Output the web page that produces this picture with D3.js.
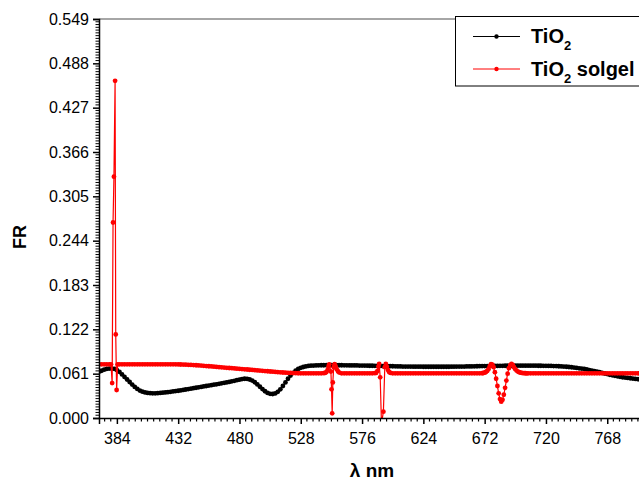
<!DOCTYPE html>
<html>
<head>
<meta charset="utf-8">
<script src="https://cdn.jsdelivr.net/npm/d3@7"></script>
<style>
  body { margin: 0; background: #fff; }
  svg { display: block; font-family: "Liberation Sans", Arial, sans-serif; }
</style>
</head>
<body>
<svg id="chart" width="639" height="482"></svg>
<script>
// Axis tick labels
const xTickLabels = ["384", "432", "480", "528", "576", "624", "672", "720", "768"];
const yTickLabels = ["0.000", "0.061", "0.122", "0.183", "0.244", "0.305", "0.366", "0.427", "0.488", "0.549"];

// Wavelength grid (nm) shared by both spectra
const wavelength = d3.range(370, 801, 2);

// TiO2 reflectance on the wavelength grid
const tio2FR = [
  0.0635, 0.065, 0.0665, 0.0675, 0.068, 0.068, 0.0675, 0.066, 0.0635, 0.060,
  0.0565, 0.053, 0.0495, 0.046, 0.0428, 0.040, 0.0378, 0.0362, 0.0352, 0.0345,
  0.0341, 0.034, 0.034, 0.0342, 0.0345, 0.0348, 0.0352, 0.0356, 0.036, 0.0365,
  0.037, 0.0375, 0.038, 0.0386, 0.0392, 0.0398, 0.0404, 0.041, 0.0416, 0.0422,
  0.0428, 0.0434, 0.044, 0.0446, 0.0452, 0.0458, 0.0464, 0.047, 0.0477, 0.0484,
  0.049, 0.0497, 0.0505, 0.0512, 0.052, 0.0528, 0.0535, 0.054, 0.0538, 0.053,
  0.0515, 0.0492, 0.0462, 0.043, 0.0398, 0.0368, 0.0345, 0.0332, 0.033, 0.0338,
  0.036, 0.0395, 0.044, 0.049, 0.054, 0.0585, 0.0622, 0.0652, 0.0675, 0.069,
  0.0702, 0.071, 0.0716, 0.072, 0.0722, 0.0724, 0.0725, 0.0726, 0.0726, 0.0727,
  0.0727, 0.0727, 0.0727, 0.0726, 0.0726, 0.0726, 0.0725, 0.0725, 0.0724, 0.0724,
  0.0723, 0.0723, 0.0722, 0.0722, 0.0721, 0.072, 0.0719, 0.0719, 0.0718, 0.0717,
  0.0716, 0.0715, 0.0714, 0.0713, 0.0713, 0.0712, 0.0711, 0.071, 0.0709, 0.0708,
  0.0708, 0.0707, 0.0707, 0.0706, 0.0706, 0.0706, 0.0706, 0.0705, 0.0705, 0.0705,
  0.0705, 0.0705, 0.0705, 0.0705, 0.0705, 0.0705, 0.0705, 0.0705, 0.0706, 0.0706,
  0.0707, 0.0707, 0.0708, 0.0708, 0.0709, 0.071, 0.071, 0.0711, 0.0712, 0.0713,
  0.0714, 0.0714, 0.0715, 0.0716, 0.0716, 0.0717, 0.0717, 0.0718, 0.0718, 0.0719,
  0.0719, 0.0719, 0.072, 0.072, 0.072, 0.072, 0.072, 0.072, 0.072, 0.072,
  0.072, 0.072, 0.0719, 0.0719, 0.0718, 0.0718, 0.0717, 0.0716, 0.0715, 0.0714,
  0.0712, 0.071, 0.0708, 0.0705, 0.0702, 0.0698, 0.0694, 0.0689, 0.0684, 0.068,
  0.0675, 0.0668, 0.066, 0.0652, 0.0645, 0.0638, 0.063, 0.0621, 0.0612, 0.0604,
  0.0595, 0.0587, 0.058, 0.0573, 0.0567, 0.0561, 0.0556, 0.0551, 0.0547, 0.0543,
  0.0538, 0.0534, 0.053, 0.0527, 0.0524, 0.052
];

// TiO2 solgel reflectance on the grid (null where the finer samples below take over)
const solgelFR = [
  0.0738, 0.0738, 0.0738, 0.0738, 0.0738, null, null, null, 0.0738, 0.0738,
  0.0738, 0.0738, 0.0738, 0.0738, 0.0738, 0.0738, 0.0738, 0.0738, 0.0738, 0.0738,
  0.0738, 0.0738, 0.0738, 0.0738, 0.0738, 0.0738, 0.0738, 0.0738, 0.0738, 0.0738,
  0.0738, 0.0737, 0.0736, 0.0735, 0.0734, 0.0732, 0.073, 0.0728, 0.0726, 0.0724,
  0.0721, 0.0718, 0.0715, 0.0712, 0.0709, 0.0706, 0.0703, 0.070, 0.0697, 0.0694,
  0.0691, 0.0688, 0.0685, 0.0682, 0.0679, 0.0676, 0.0673, 0.067, 0.0667, 0.0664,
  0.0661, 0.0658, 0.0655, 0.0652, 0.0649, 0.0646, 0.0643, 0.064, 0.0637, 0.0634,
  0.0631, 0.0628, 0.0626, 0.0624, 0.0622, 0.062, 0.0618, 0.0617, 0.0616, 0.0615,
  0.0615, 0.0615, 0.0615, 0.0615, 0.0615, 0.0615, 0.0615, 0.0615, null, null,
  null, null, null, null, null, 0.0615, 0.0615, 0.0615, 0.0615, 0.0615,
  0.0615, 0.0615, 0.0615, 0.0615, 0.0615, 0.0615, 0.0615, 0.0615, null, null,
  null, null, null, null, null, 0.0615, 0.0615, 0.0615, 0.0615, 0.0615,
  0.0615, 0.0615, 0.0615, 0.0615, 0.0615, 0.0615, 0.0615, 0.0615, 0.0615, 0.0615,
  0.0615, 0.0615, 0.0615, 0.0615, 0.0615, 0.0615, 0.0615, 0.0615, 0.0615, 0.0615,
  0.0615, 0.0615, 0.0615, 0.0615, 0.0615, 0.0615, 0.0615, 0.0615, 0.0615, 0.0615,
  null, null, null, null, null, null, null, null, null, null,
  null, null, null, null, null, null, null, null, null, 0.0615,
  0.0615, 0.0615, 0.0615, 0.0615, 0.0615, 0.0615, 0.0615, 0.0615, 0.0615, 0.0615,
  0.0615, 0.0615, 0.0615, 0.0615, 0.0615, 0.0615, 0.0615, 0.0615, 0.0615, 0.0615,
  0.0615, 0.0615, 0.0615, 0.0615, 0.0615, 0.0615, 0.0615, 0.0615, 0.0615, 0.0615,
  0.0615, 0.0615, 0.0615, 0.0615, 0.0615, 0.0615, 0.0615, 0.0615, 0.0615, 0.0615,
  0.0615, 0.0615, 0.0615, 0.0615, 0.0615, 0.0615
];

// Finer solgel samples around the sharp features
const solgelFineNm = [
  379.4, 380.3, 381.0, 381.7, 382.6, 383.1, 383.8, 384.6,
  546, 547, 548, 549, 549.7, 550.3, 551.6, 552.1, 552.6, 553.1, 553.8, 554.5, 555.3, 556.2, 557.2, 558.2,
  586, 587, 588, 588.8, 589.4, 590.2, 591.2, 592.7, 593.8, 594.6, 595.4, 596.3, 597.3, 598.3,
  670, 671, 672, 673, 674, 675, 676, 677, 678, 679, 680, 681, 682, 683, 684, 685, 686, 687, 688,
  689, 690, 691, 692, 693, 694, 695, 696, 697, 698, 699, 700, 701, 702, 703, 704, 705, 706
];
const solgelFineFR = [
  0.0738, 0.048, 0.269, 0.332, 0.464, 0.115, 0.0385, 0.0738,
  0.0617, 0.062, 0.063, 0.066, 0.0705, 0.0738, 0.064, 0.0395, 0.0065, 0.049, 0.070, 0.074, 0.071, 0.067, 0.064, 0.0625,
  0.0617, 0.062, 0.0645, 0.0705, 0.0745, 0.056, -0.008, 0.0087, 0.070, 0.0745, 0.0705, 0.066, 0.063, 0.062,
  0.0616, 0.0619, 0.0624, 0.0633, 0.0648, 0.0672, 0.0712, 0.0740, 0.0735, 0.0700, 0.0630, 0.0540, 0.0440, 0.0340, 0.0260, 0.0225, 0.0250, 0.0320, 0.0415,
  0.0515, 0.0610, 0.0685, 0.0728, 0.0743, 0.0730, 0.0700, 0.0672, 0.0652, 0.0639, 0.0630, 0.0624, 0.0620, 0.0618, 0.0617, 0.0616, 0.0615, 0.0615
];

const seriesTiO2 = wavelength.map((nm, i) => ({ nm, fr: tio2FR[i] }));
const seriesSolgel = wavelength
  .map((nm, i) => ({ nm, fr: solgelFR[i] }))
  .filter(d => d.fr !== null)
  .concat(solgelFineNm.map((nm, i) => ({ nm, fr: solgelFineFR[i] })))
  .sort((a, b) => a.nm - b.nm);

const svg = d3.select("#chart");
const plotLeft = 99, plotTop = 19, plotBottom = 418;
const x = d3.scaleLinear().domain([370, 800]).range([plotLeft, plotLeft + 430 * 1.277]);
const y = d3.scaleLinear().domain([0, 0.549]).range([plotBottom, plotTop]);

svg.append("rect").attr("width", 639).attr("height", 482).attr("fill", "#fff");

svg.append("defs").append("clipPath").attr("id", "plot-clip")
  .append("rect").attr("x", plotLeft).attr("y", plotTop).attr("width", 640).attr("height", plotBottom - plotTop);

// Top frame line
svg.append("line").attr("x1", plotLeft).attr("x2", 639).attr("y1", plotTop).attr("y2", plotTop)
  .attr("stroke", "#888").attr("stroke-width", 1.5);

// Series: thin connecting line plus a dot at every sample
const line = d3.line().x(d => x(d.nm)).y(d => y(d.fr));
const plot = svg.append("g").attr("clip-path", "url(#plot-clip)");

function drawSeries(data, color) {
  const g = plot.append("g");
  g.append("path").datum(data).attr("d", line)
    .attr("fill", "none").attr("stroke", color).attr("stroke-width", 1.2);
  g.selectAll("circle").data(data).join("circle")
    .attr("cx", d => x(d.nm)).attr("cy", d => y(d.fr)).attr("r", 2.4).attr("fill", color);
}
drawSeries(seriesTiO2, "#000");
drawSeries(seriesSolgel, "#ff0000");

// Axes
const xTickVals = xTickLabels.map(Number);
const xAxis = d3.axisBottom(x).tickValues(xTickVals).tickFormat((d, i) => xTickLabels[i]).tickSizeOuter(0).tickSize(6);
const gx = svg.append("g").attr("transform", `translate(0,${plotBottom})`).call(xAxis);
gx.selectAll(".tick text").attr("font-size", 16).attr("font-family", "Liberation Sans, Arial, sans-serif").attr("dy", "1.05em").attr("fill", "#000");
gx.selectAll(".tick line").attr("stroke-width", 1.5);
gx.select(".domain").attr("stroke-width", 1.5);
gx.selectAll(".minor").data(d3.range(0, 90).map(k => 369.6 + k * 4.8).filter(v => v >= 370 && v <= 800 && !xTickVals.some(t => Math.abs(t - v) < 0.1)))
  .join("line").attr("class", "minor")
  .attr("x1", d => x(d)).attr("x2", d => x(d)).attr("y1", 0).attr("y2", 3.5)
  .attr("stroke", "#000").attr("stroke-width", 1.2);

const yTickVals = yTickLabels.map(Number);
const yAxis = d3.axisLeft(y).tickValues(yTickVals).tickFormat((d, i) => yTickLabels[i]).tickSizeOuter(0).tickSize(6);
const gy = svg.append("g").attr("transform", `translate(${plotLeft},0)`).call(yAxis);
gy.selectAll(".tick text").attr("font-size", 16).attr("font-family", "Liberation Sans, Arial, sans-serif").attr("fill", "#000").attr("x", -10);
gy.selectAll(".tick line").attr("stroke-width", 1.5);
gy.select(".domain").attr("stroke-width", 1.5);
gy.selectAll(".minor").data(d3.range(0, 145).map(k => k * 0.061 / 16).filter(v => !yTickVals.some(t => Math.abs(t - v) < 1e-6)))
  .join("line").attr("class", "minor")
  .attr("x1", 0).attr("x2", -3.5).attr("y1", d => y(d)).attr("y2", d => y(d))
  .attr("stroke", "#000").attr("stroke-width", 1);

// Axis titles
svg.append("text").attr("x", 372).attr("y", 477).attr("text-anchor", "middle")
  .attr("font-size", 19).attr("font-weight", "bold").text("λ nm");
svg.append("text").attr("transform", "translate(26,237) rotate(-90)").attr("text-anchor", "middle")
  .attr("font-size", 18).attr("font-weight", "bold").text("FR");

// Legend
const legend = svg.append("g");
legend.append("rect").attr("x", 455.5).attr("y", 16.5).attr("width", 220).attr("height", 69.5)
  .attr("fill", "#fff").attr("stroke", "#000").attr("stroke-width", 1);
const legendItems = [
  { name: "TiO", sub: "2", extra: "", color: "#000", y: 36.5 },
  { name: "TiO", sub: "2", extra: " solgel", color: "#ff0000", y: 69 }
];
legendItems.forEach(item => {
  legend.append("line").attr("x1", 473).attr("x2", 520).attr("y1", item.y).attr("y2", item.y)
    .attr("stroke", item.color).attr("stroke-width", 1);
  legend.append("circle").attr("cx", 496.5).attr("cy", item.y).attr("r", 2.2).attr("fill", item.color);
  const t = legend.append("text").attr("x", 531).attr("y", item.y + 6.5)
    .attr("font-size", 20).attr("font-weight", "bold");
  t.append("tspan").text(item.name);
  t.append("tspan").attr("font-size", 13).attr("dy", 7).text(item.sub);
  if (item.extra) t.append("tspan").attr("dy", -7).text(item.extra);
});
</script>
</body>
</html>
